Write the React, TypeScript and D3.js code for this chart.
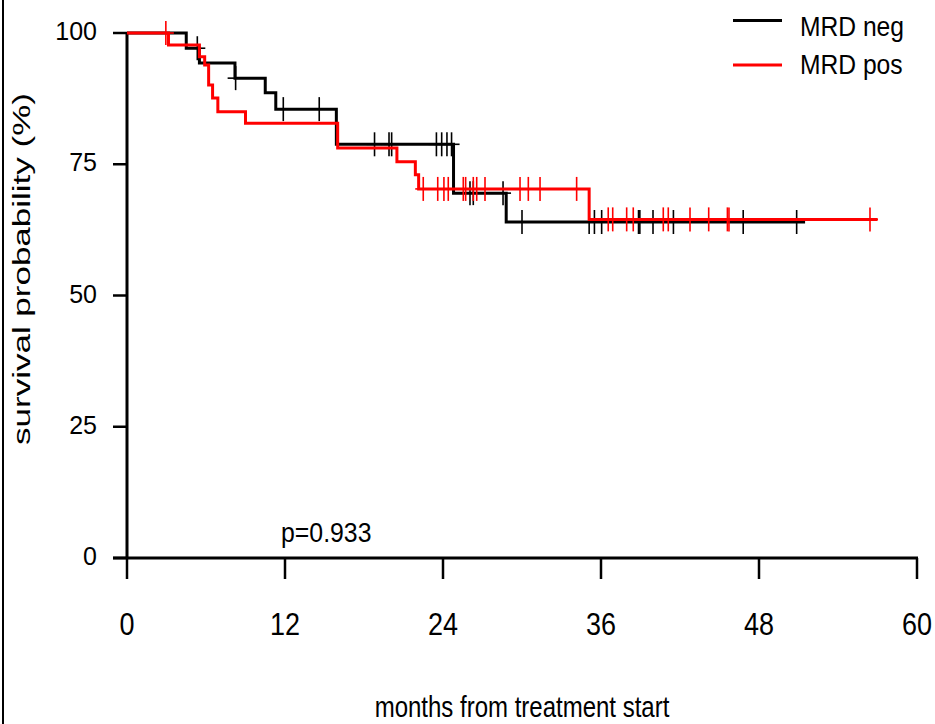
import React from "react";
import * as d3 from "d3";

// ---- data ----
const xTicks = [0, 12, 24, 36, 48, 60];
const yTicks = [0, 25, 50, 75, 100];

// MRD neg: step times (months) and survival (%) after the step
const negTimes = [0, 4.5, 5.5, 8.2, 10.5, 11.3, 15.9, 24.8, 28.8];
const negSurv = [100, 97.1, 94.3, 91.4, 88.6, 85.5, 78.8, 69.5, 64.0];
const negEnd = 51.5;
const negCensor = [
  5.34, 8.25, 11.87, 14.6, 18.8, 19.9, 20.1, 23.5, 23.9, 24.3, 24.65, 26.05,
  26.3, 28.56, 30.0, 35.1, 35.5, 36.05, 38.85, 38.95, 39.95, 41.5, 46.8, 50.86,
];

// MRD pos
const posTimes = [0, 3.15, 5.5, 5.9, 6.2, 6.5, 6.9, 9.0, 16.0, 20.5, 21.9, 22.15, 35.1];
const posSurv = [100, 97.7, 95.5, 93.9, 90.1, 87.6, 85.0, 82.8, 78.1, 75.5, 73.0, 70.3, 64.5];
const posEnd = 57.0;
const posCensor = [
  2.95, 22.5, 23.6, 24.07, 24.4, 25.54, 25.72, 26.3, 26.56, 27.19, 29.85, 30.48,
  31.37, 34.15, 36.55, 36.89, 37.95, 38.45, 40.73, 41.11, 42.76, 44.18, 45.6,
  45.72, 56.43,
];

const seriesNames = ["MRD neg", "MRD pos"];
const seriesColors = ["#000000", "#ff0000"];
const pLabel = "p=0.933";
const xTitle = "months from treatment start";
const yTitle = "survival probability (%)";

const FONT = "'Liberation Sans', Arial, sans-serif";

function buildPoints(times: number[], surv: number[], end: number) {
  const pts: [number, number][] = times.map((t, i) => [t, surv[i]]);
  pts.push([end, surv[surv.length - 1]]);
  return pts;
}

function levelAt(times: number[], surv: number[], t: number) {
  let v = surv[0];
  for (let i = 0; i < times.length; i++) if (times[i] <= t) v = surv[i];
  return v;
}

function SText(props: {
  x: number;
  y: number;
  sx?: number;
  size: number;
  anchor?: string;
  children: string;
}) {
  const { x, y, sx = 1, size, anchor = "start", children } = props;
  return (
    <text
      transform={`translate(${x},${y}) scale(${sx},1)`}
      fontFamily={FONT}
      fontSize={size}
      textAnchor={anchor}
      fill="#000"
    >
      {children}
    </text>
  );
}

export default function App() {
  const W = 935;
  const H = 724;
  const x = d3.scaleLinear().domain([0, 60]).range([127, 917]);
  const y = d3.scaleLinear().domain([0, 100]).range([558, 33]);

  const line = d3
    .line<[number, number]>()
    .x((d) => x(d[0]))
    .y((d) => y(d[1]))
    .curve(d3.curveStepAfter);

  const series = [
    { times: negTimes, surv: negSurv, end: negEnd, censor: negCensor },
    { times: posTimes, surv: posSurv, end: posEnd, censor: posCensor },
  ];

  return (
    <svg
      width={W}
      height={H}
      style={{ position: "absolute", left: 0, top: 0, background: "#fff" }}
    >
      <rect x={0} y={0} width={W} height={H} fill="#fff" />
      {/* left frame line */}
      <line x1={3} x2={3} y1={0} y2={H} stroke="#000" strokeWidth={2} />

      {/* y axis */}
      <line x1={x(0)} x2={x(0)} y1={y(100)} y2={y(0)} stroke="#000" strokeWidth={3} />
      {yTicks.map((t) => (
        <g key={"yt" + t}>
          <line x1={x(0) - 14} x2={x(0)} y1={y(t)} y2={y(t)} stroke="#000" strokeWidth={2.5} />
          <SText x={97} y={y(t) + 7} size={25} anchor="end">
            {String(t)}
          </SText>
        </g>
      ))}

      {/* x axis */}
      <line x1={x(0) - 14} x2={x(60) + 1} y1={y(0)} y2={y(0)} stroke="#000" strokeWidth={3} />
      {xTicks.map((t) => (
        <g key={"xt" + t}>
          <line x1={x(t)} x2={x(t)} y1={y(0)} y2={y(0) + 21} stroke="#000" strokeWidth={2.5} />
          <SText x={x(t)} y={635} size={31} sx={0.87} anchor="middle">
            {String(t)}
          </SText>
        </g>
      ))}

      {/* titles */}
      <SText x={522} y={717} size={30} sx={0.8} anchor="middle">
        {xTitle}
      </SText>
      <text
        transform="translate(29.5,269) scale(0.68,1) rotate(-90)"
        fontFamily={FONT}
        fontSize={35}
        textAnchor="middle"
        fill="#000"
      >
        {yTitle}
      </text>

      {/* curves */}
      {series.map((s, i) => (
        <g key={"s" + i}>
          <path
            d={line(buildPoints(s.times, s.surv, s.end)) || ""}
            fill="none"
            stroke={seriesColors[i]}
            strokeWidth={3}
          />
          {s.censor.map((c, j) => {
            const cx = x(c);
            const cy = y(levelAt(s.times, s.surv, c));
            return (
              <g key={"c" + j} stroke={seriesColors[i]} strokeWidth={1.6}>
                <line x1={cx} x2={cx} y1={cy - 12} y2={cy + 12} />
                <line x1={cx - 8} x2={cx + 8} y1={cy} y2={cy} />
              </g>
            );
          })}
        </g>
      ))}

      {/* p-value */}
      <SText x={281} y={542} size={27} sx={0.92}>
        {pLabel}
      </SText>

      {/* legend */}
      {seriesNames.map((n, i) => {
        const ly = [20.5, 65][i];
        const ty = [36, 74][i];
        return (
          <g key={"lg" + i}>
            <line x1={733} x2={782} y1={ly} y2={ly} stroke={seriesColors[i]} strokeWidth={3} />
            <SText x={800} y={ty} size={28} sx={0.88}>
              {n}
            </SText>
          </g>
        );
      })}
    </svg>
  );
}
